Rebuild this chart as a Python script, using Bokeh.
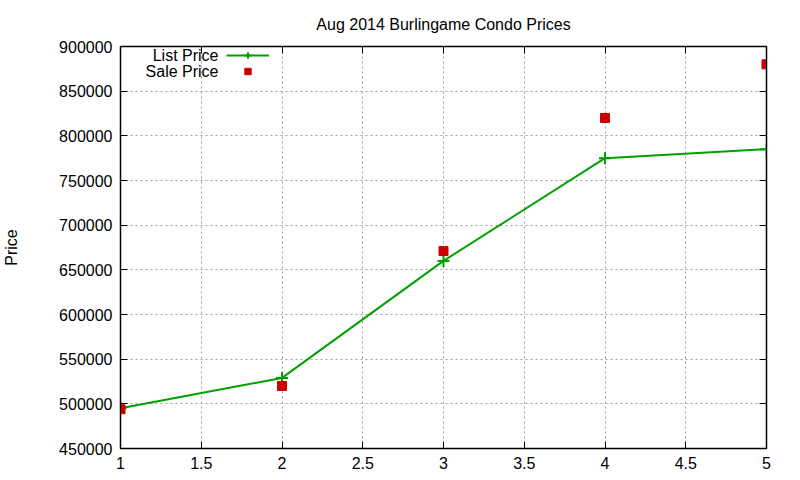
from bokeh.plotting import figure
from bokeh.models import (LinearAxis, Range1d, FixedTicker, Legend, LegendItem,
                          CustomLabelingPolicy, Label)
from bokeh.embed import file_html
from bokeh.resources import INLINE

# data
months = [1, 2, 3, 4, 5]
list_price = [495000, 529000, 660000, 775000, 785000]
sale_price = [494000, 520000, 671000, 820000, 880000]

x_ticks = [1, 1.5, 2, 2.5, 3, 3.5, 4, 4.5, 5]
y_ticks = [450000, 500000, 550000, 600000, 650000, 700000, 750000, 800000, 850000, 900000]

series_names = ["List Price", "Sale Price"]

FONT = "Liberation Sans"

p = figure(width=784, height=472, output_backend="svg", toolbar_location=None,
           x_range=Range1d(1, 5), y_range=Range1d(450000, 900000),
           min_border_left=119, min_border_right=18, min_border_top=46, min_border_bottom=24)

p.title.text = "Aug 2014 Burlingame Condo Prices"
p.title.align = "center"
p.title.text_font = FONT
p.title.text_font_size = "16px"
p.title.text_font_style = "normal"
p.title.text_color = "black"
p.title.standoff = 20

p.outline_line_color = "black"
p.outline_line_width = 1.5
p.background_fill_color = "white"

p.xgrid.ticker = FixedTicker(ticks=x_ticks)
p.ygrid.ticker = FixedTicker(ticks=y_ticks)
for g in (p.xgrid, p.ygrid):
    g.grid_line_color = "#a0a0a0"
    g.grid_line_dash = "2 3"
    g.grid_line_width = 1

def style_axis(ax, ticks, labels=True):
    ax.ticker = FixedTicker(ticks=ticks)
    ax.major_tick_in = 7
    ax.major_tick_out = 0
    ax.minor_tick_in = 0
    ax.minor_tick_out = 0
    ax.axis_line_color = "black"
    ax.major_tick_line_color = "black"
    ax.major_label_text_font = FONT
    ax.major_label_text_color = "black"
    ax.major_label_standoff = 8
    if labels:
        ax.major_label_text_font_size = "16px"
    else:
        # mirror ticks only, like gnuplot's border tics
        ax.major_label_text_font_size = "1px"
        ax.major_label_standoff = 0
        ax.major_label_policy = CustomLabelingPolicy(
            code="for (let i = 0; i < indices.size; i++) indices.unset(i); return indices")

style_axis(p.xaxis[0], x_ticks)
style_axis(p.yaxis[0], y_ticks)
p.yaxis[0].formatter.use_scientific = False
p.yaxis[0].axis_label = "Price"
p.yaxis[0].axis_label_text_font = FONT
p.yaxis[0].axis_label_text_font_size = "16px"
p.yaxis[0].axis_label_text_font_style = "normal"
p.yaxis[0].axis_label_text_color = "black"
p.yaxis[0].axis_label_standoff = 36

right = LinearAxis()
style_axis(right, y_ticks, labels=False)
p.add_layout(right, "right")
top = LinearAxis()
style_axis(top, x_ticks, labels=False)
p.add_layout(top, "above")

ln = p.line(months, list_price, line_color="#00a000", line_width=2)
lm = p.scatter(months, list_price, marker="cross", size=12, line_color="#00a000", line_width=2)
sm = p.scatter(months, sale_price, marker="square", size=9, fill_color="#cc0000", line_color="#cc0000")

# gnuplot-style key: right-aligned text, sample to its right
legend = Legend(items=[LegendItem(label=" ", renderers=[ln, lm]),
                       LegendItem(label=" ", renderers=[sm])])
legend.border_line_color = None
legend.background_fill_alpha = 0
legend.label_text_font_size = "6px"
legend.glyph_width = 43
legend.glyph_height = 16
legend.label_height = 16
legend.label_standoff = 0
legend.spacing = 0
legend.padding = 0
legend.margin = 0
legend.location = (106, 369)
p.add_layout(legend)

for i, name in enumerate(series_names):
    p.add_layout(Label(x=98, y=393 - 16 * i, x_units="screen", y_units="screen",
                       text=name, text_align="right", text_baseline="middle",
                       text_font=FONT, text_font_size="16px", text_color="black"))

open("out.html", "w").write(file_html(p, INLINE))
